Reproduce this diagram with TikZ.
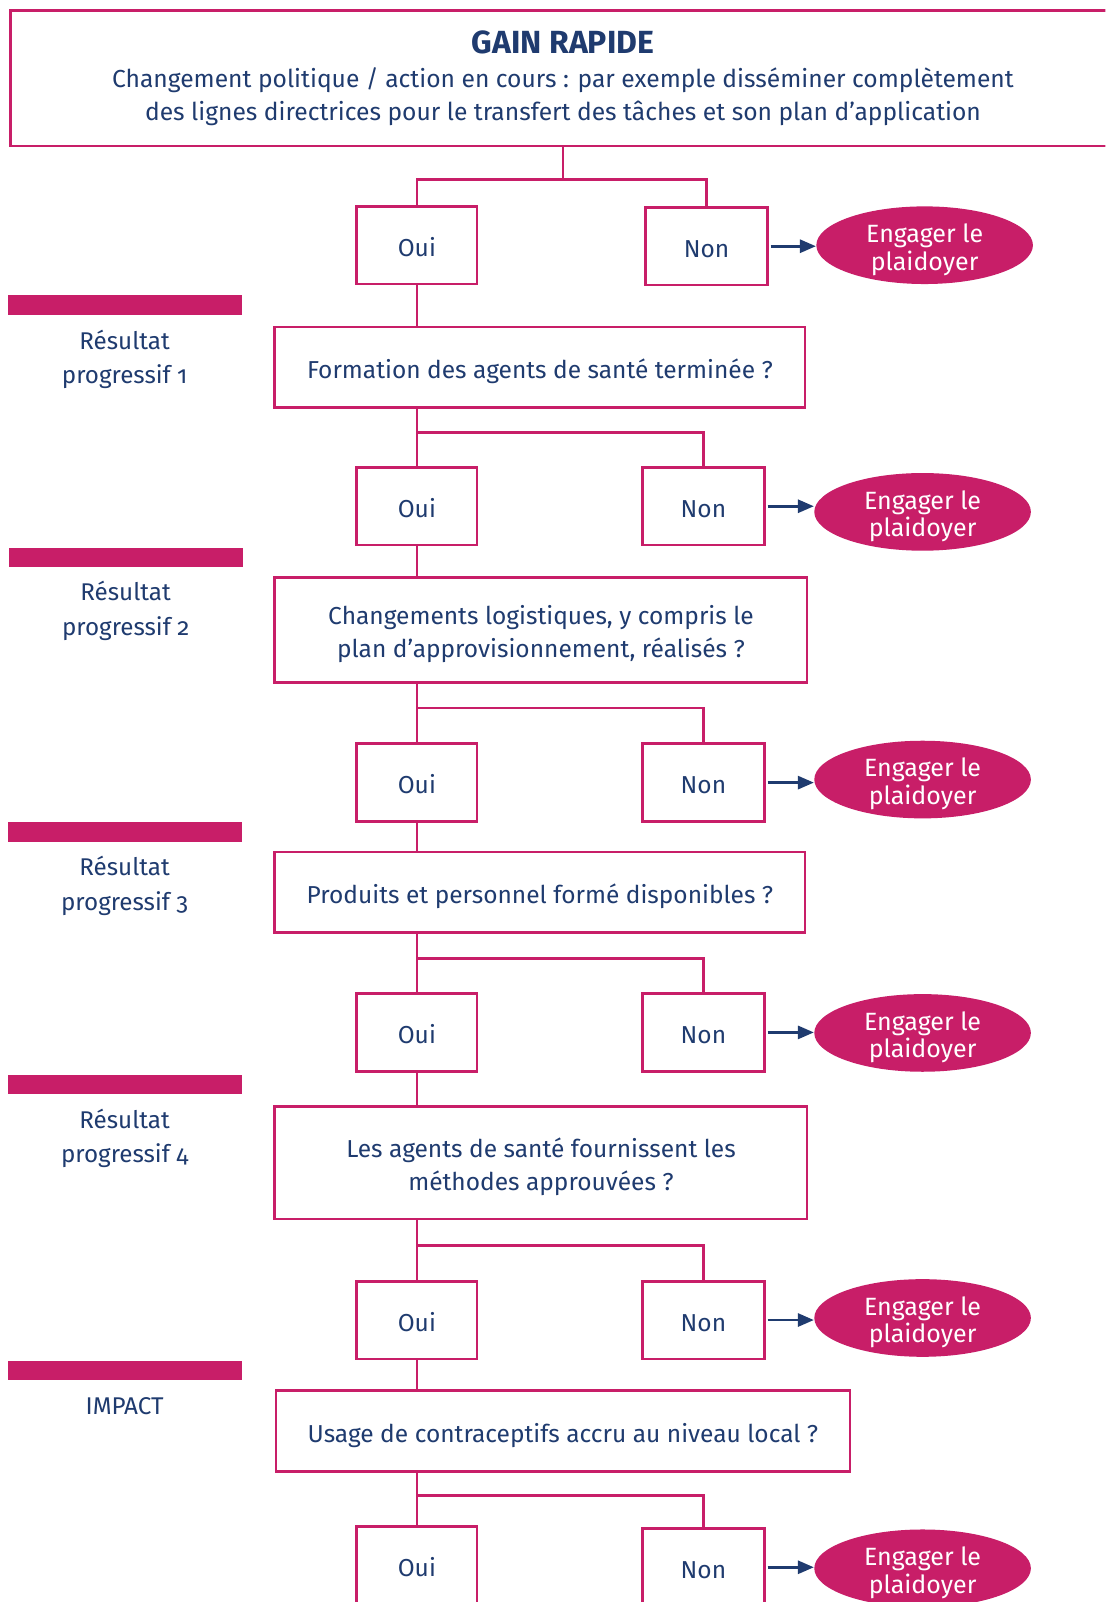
\documentclass[tikz,border=0pt]{standalone}
\usepackage{fontspec}
\setmainfont{Fira Sans}
\usetikzlibrary{arrows.meta,shapes.geometric}
\definecolor{mag}{HTML}{C81E68}
\definecolor{navy}{HTML}{1F3B6F}
\def\U{0.51065pt}
\begin{document}
\begin{tikzpicture}[x=\U, y=-\U,
  txt/.style={font=\fontsize{12.25}{16.3}\selectfont, text=navy},
  box/.style={draw=mag, line width=1.35pt, txt, align=center, inner sep=0pt,
    text height=11.2pt, text depth=0pt},
  two/.style={text height=27.5pt},
  yn/.style={box, minimum width=118*\U, minimum height=76*\U},
  qb/.style={box, minimum height=79*\U},
  adv/.style={ellipse, fill=mag, text=white, minimum width=212*\U, minimum height=76*\U,
    inner sep=0pt, align=center, font=\fontsize{12.5}{13.8}\selectfont,
    text height=25pt, text depth=0pt},
  link/.style={draw=mag, line width=1.35pt},
  arr/.style={draw=navy, line width=1.4pt, -{Triangle[length=8pt,width=6.5pt]}},
  bar/.style={fill=mag},
  lab/.style={font=\fontsize{12.1}{17.2}\selectfont, text=navy, align=center}
]
\useasboundingbox (0,0) rectangle (1082,1568);
\clip (0,0) rectangle (1082,1568);
\fill[white] (0,0) rectangle (1082,1568);

% top box
\node[draw=mag, line width=1.35pt, align=center, inner sep=0pt, text=navy,
  font=\fontsize{12.3}{16.6}\selectfont,
  minimum width=1082*\U, minimum height=133*\U] (top) at (551,76.5)
  {{\fontsize{16}{17}\bfseries GAIN RAPIDE}\\[0.5pt]
   Changement politique / action en cours : par exemple disséminer complètement\\
   des lignes directrices pour le transfert des tâches et son plan d’application};

% left bars and labels
\fill[bar] (8,289) rectangle (237,308);
\fill[bar] (9,536) rectangle (238,555);
\fill[bar] (8,805) rectangle (237,824);
\fill[bar] (8,1052) rectangle (237,1071);
\fill[bar] (8,1332) rectangle (237,1351);
\node[lab] (l1) at (122,352) {Résultat\\progressif {\addfontfeatures{Numbers=OldStyle}1}};
\node[lab] (l2) at (123,598) {Résultat\\progressif {\addfontfeatures{Numbers=OldStyle}2}};
\node[lab] (l3) at (122,867) {Résultat\\progressif {\addfontfeatures{Numbers=OldStyle}3}};
\node[lab] (l4) at (122,1114) {Résultat\\progressif {\addfontfeatures{Numbers=OldStyle}4}};
\node[lab] (l5) at (122,1376) {IMPACT};

% question boxes
\node[qb, minimum width=519*\U] (q1) at (528.5,359.5) {Formation des agents de santé terminée ?};
\node[qb, two, minimum width=521*\U, minimum height=103*\U] (q2) at (529.5,616.5)
  {Changements logistiques, y compris le\\plan d’approvisionnement, réalisés ?};
\node[qb, minimum width=519*\U] (q3) at (528.5,873.5) {Produits et personnel formé disponibles ?};
\node[qb, two, minimum width=521*\U, minimum height=110*\U] (q4) at (529.5,1138)
  {Les agents de santé fournissent les\\méthodes approuvées ?};
\node[qb, minimum width=562*\U] (q5) at (551,1400.5) {Usage de contraceptifs accru au niveau local ?};

% Oui / Non rows
\node[yn] (oA) at (408,240) {Oui};
\node[yn, minimum width=119*\U] (nA) at (691.5,241) {Non};
\node[adv] (eA) at (905,240) {Engager le\\plaidoyer};

\node[yn] (oB) at (408,495.5) {Oui};
\node[yn, minimum width=119*\U] (nB) at (688.5,495.5) {Non};
\node[adv] (eB) at (903,501) {Engager le\\plaidoyer};

\node[yn] (oC) at (408,766) {Oui};
\node[yn, minimum width=119*\U] (nC) at (688.5,766) {Non};
\node[adv] (eC) at (903,763) {Engager le\\plaidoyer};

\node[yn] (oD) at (408,1010.5) {Oui};
\node[yn, minimum width=119*\U] (nD) at (688.5,1010.5) {Non};
\node[adv] (eD) at (903,1011) {Engager le\\plaidoyer};

\node[yn] (oE) at (408,1292) {Oui};
\node[yn, minimum width=119*\U] (nE) at (688.5,1292) {Non};
\node[adv] (eE) at (903,1290) {Engager le\\plaidoyer};

\node[yn] (oF) at (408,1532) {Oui};
\node[yn, minimum width=119*\U] (nF) at (688.5,1534) {Non};
\node[adv] (eF) at (903,1535) {Engager le\\plaidoyer};

% arrows
\foreach \r in {A,B,C,D,E,F}{
  \draw[arr] ([xshift=1pt]n\r.east) -- (n\r.east -| e\r.west);
}

% branch junctions
\coordinate (jA) at (551,176);
\coordinate (jB) at (408,423);
\coordinate (jC) at (408,693);
\coordinate (jD) at (408,938);
\coordinate (jE) at (408,1219);
\coordinate (jF) at (408,1464);

\draw[link] (top.south -| jA) -- (jA);
\draw[link] (oA.north) |- (jA) -| (nA.north);

\draw[link] (oA.south) -- (oA.south |- q1.north);
\draw[link] (q1.south -| oB.north) -- (oB.north);
\draw[link] (jB) -| (nB.north);

\draw[link] (oB.south) -- (oB.south |- q2.north);
\draw[link] (q2.south -| oC.north) -- (oC.north);
\draw[link] (jC) -| (nC.north);

\draw[link] (oC.south) -- (oC.south |- q3.north);
\draw[link] (q3.south -| oD.north) -- (oD.north);
\draw[link] (jD) -| (nD.north);

\draw[link] (oD.south) -- (oD.south |- q4.north);
\draw[link] (q4.south -| oE.north) -- (oE.north);
\draw[link] (jE) -| (nE.north);

\draw[link] (oE.south) -- (oE.south |- q5.north);
\draw[link] (q5.south -| oF.north) -- (oF.north);
\draw[link] (jF) -| (nF.north);
\end{tikzpicture}
\end{document}
